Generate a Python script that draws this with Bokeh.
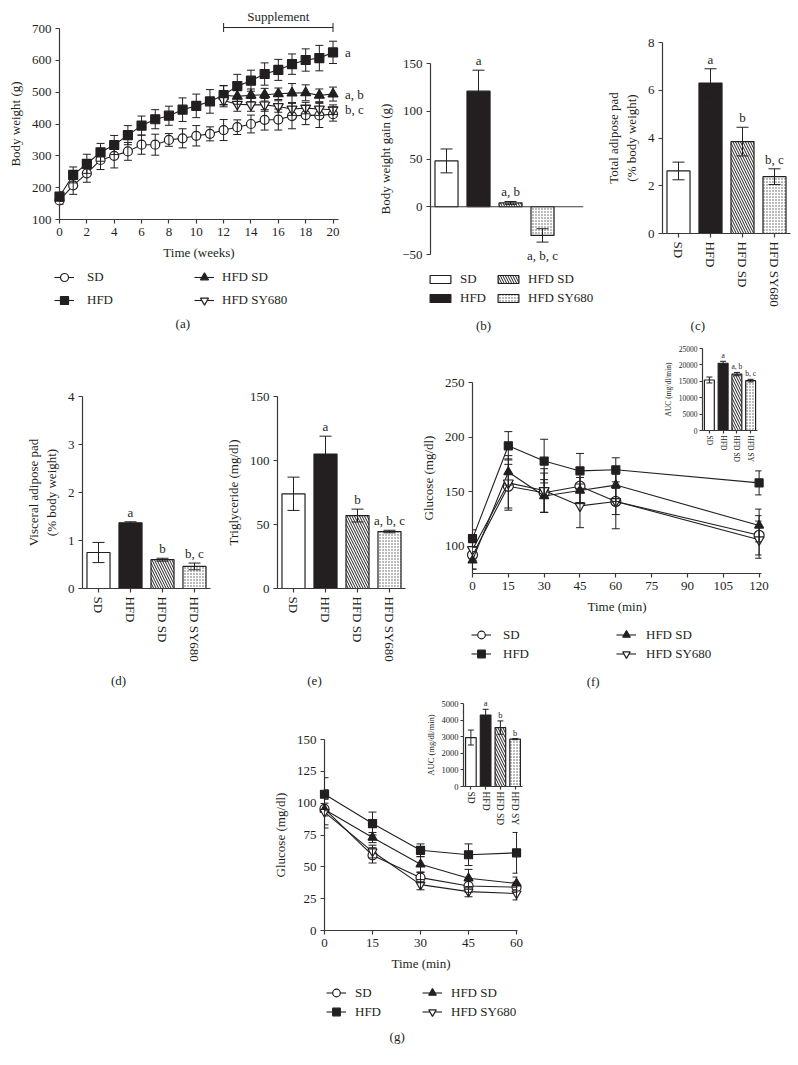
import math
from bokeh.plotting import figure
from bokeh.models import (ColumnDataSource, Whisker, TeeHead, Legend, LegendItem,
                          Range1d, FixedTicker, Span, Spacer)
from bokeh.core.properties import value
from bokeh.layouts import row, column
from bokeh.embed import file_html
from bokeh.resources import INLINE

FONT = "Liberation Serif"
INK = "#231f20"
AX = "#3a3a3a"
FS = "13px"
LVL = "overlay"
NAN = float("nan")

# ---------------- data ----------------
groups = ["SD", "HFD", "HFD SD", "HFD SY680"]
inset_groups = ["SD", "HFD", "HFD SD", "HFD SY"]
bar_pos = [1, 2, 3, 4]

# (a) body weight
weeks = list(range(0, 21))
weeks_supp = list(range(12, 21))
bw_sd = [160, 207, 245, 287, 300, 314, 335, 335, 350, 355, 363, 369, 381, 390, 400, 413, 414, 425, 428, 427, 431]
bw_sd_err = [12, 28, 28, 30, 38, 28, 30, 33, 20, 30, 32, 22, 33, 23, 28, 32, 33, 40, 30, 38, 22]
bw_hfd = [172, 240, 275, 311, 334, 365, 395, 415, 426, 445, 457, 471, 491, 519, 536, 557, 570, 588, 601, 607, 625]
bw_hfd_err = [15, 25, 30, 28, 30, 30, 30, 30, 30, 37, 37, 37, 30, 37, 33, 35, 33, 32, 35, 40, 35]
bw_hfdsd = [490, 487, 490, 492, 495, 497, 498, 490, 494]
bw_hfdsd_err = [30, 25, 20, 20, 18, 30, 25, 20, 22]
bw_sy = [474, 462, 460, 460, 455, 447, 450, 447, 445]
bw_sy_err = [20, 22, 20, 20, 18, 20, 18, 20, 15]
bw_letters = ["a", "a, b", "b, c"]
supplement_weeks = [12, 20]
supplement_level = 703
bw_ticks_x = list(range(0, 21, 2))
bw_ticks_y = [100, 200, 300, 400, 500, 600, 700]

# (b) body weight gain
gain = [48, 121, 4, -30]
gain_err = [12.5, 22, 1.5, 7]
gain_letters = ["", "a", "a, b", "a, b, c"]
gain_ticks = [-50, 0, 50, 100, 150]

# (c) total adipose pad
total_pad = [2.62, 6.3, 3.85, 2.38]
total_pad_err = [0.37, 0.6, 0.6, 0.33]
total_pad_letters = ["", "a", "b", "b, c"]
total_pad_ticks = [0, 2, 4, 6, 8]

# (d) visceral adipose pad
visc_pad = [0.75, 1.37, 0.6, 0.46]
visc_pad_err = [0.21, 0.02, 0.03, 0.07]
visc_pad_letters = ["", "a", "b", "b, c"]
visc_pad_ticks = [0, 1, 2, 3, 4]

# (e) triglyceride
tg = [74, 105, 57, 44.5]
tg_err = [13, 14, 5, 1]
tg_letters = ["", "a", "b", "a, b, c"]
tg_ticks = [0, 50, 100, 150]

# (f) OGTT
ogtt_time = [0, 15, 30, 45, 60, 120]
ogtt_sd = [92, 155, 149, 155, 141, 110]
ogtt_sd_err = [13, 20, 18, 15, 25, 18]
ogtt_hfd = [107, 192, 178, 169, 170, 158]
ogtt_hfd_err = [8, 13, 20, 16, 11, 11]
ogtt_hfdsd = [87, 168, 146, 151, 156, 119]
ogtt_hfdsd_err = [8, 12, 15, 12, 15, 15]
ogtt_sy = [97, 158, 151, 137, 141, 106]
ogtt_sy_err = [10, 25, 20, 20, 12, 17]
ogtt_ticks_x = [0, 15, 30, 45, 60, 75, 90, 105, 120]
ogtt_ticks_y = [100, 150, 200, 250]
ogtt_auc = [15400, 20500, 17200, 15200]
ogtt_auc_err = [900, 600, 500, 400]
ogtt_auc_letters = ["", "a", "a, b", "b, c"]
ogtt_auc_ticks = [0, 5000, 10000, 15000, 20000, 25000]

# (g) ITT
itt_time = [0, 15, 30, 45, 60]
itt_sd = [95.5, 59, 41.5, 35, 34]
itt_sd_err = [15, 6, 4, 5, 4]
itt_hfd = [107, 84, 63, 59.5, 61]
itt_hfd_err = [13, 9, 5, 8.5, 16]
itt_hfdsd = [95, 73, 52, 41, 37]
itt_hfdsd_err = [5, 4, 6, 7, 5]
itt_sy = [93, 62, 36, 30.5, 29]
itt_sy_err = [10, 5, 4, 4, 5]
itt_ticks_x = [0, 15, 30, 45, 60]
itt_ticks_y = [0, 25, 50, 75, 100, 125, 150]
itt_auc = [2950, 4300, 3550, 2850]
itt_auc_err = [450, 350, 400, 30]
itt_auc_letters = ["", "a", "b", "b"]
itt_auc_ticks = [0, 1000, 2000, 3000, 4000, 5000]

# ---------------- styles ----------------
BAR_FILL = ["white", INK, "white", "white"]
BAR_HATCH = [" ", " ", "\\", "."]
BAR_HSCALE = [4, 4, 5, 3]
BAR_HCOLOR = [INK, INK, INK, "#555555"]
LINE_MARKERS = [("circle", "white"), ("square", INK), ("triangle", INK), ("inverted_triangle", "white")]


def make_fig(w, h, left, top, right, bottom, xr, yr, fs=FS, lfs=FS, tick=4, stand=4, lstand=6,
             x_axis_location="below"):
    p = figure(width=w, height=h, x_range=xr, y_range=yr, output_backend="svg",
               toolbar_location=None, min_border_left=left, min_border_top=top,
               min_border_right=right, min_border_bottom=bottom, frame_align=False,
               x_axis_location=x_axis_location)
    p.grid.visible = False
    p.outline_line_color = None
    p.background_fill_alpha = 0
    p.border_fill_alpha = 0
    for ax in p.axis:
        ax.axis_line_color = AX
        ax.axis_line_width = 1.2
        ax.major_tick_line_color = AX
        ax.major_tick_line_width = 1.2
        ax.major_tick_out = tick
        ax.major_tick_in = 0
        ax.minor_tick_line_color = None
        ax.major_label_text_font = FONT
        ax.major_label_text_font_size = fs
        ax.major_label_text_color = INK
        ax.axis_label_text_font = FONT
        ax.axis_label_text_font_size = lfs
        ax.axis_label_text_font_style = "normal"
        ax.axis_label_text_color = INK
        ax.major_label_standoff = stand
        ax.axis_label_standoff = lstand
    return p


def add_text(p, xs, ys, texts, dx=0, dy=0, align="center", baseline="middle", fs=FS):
    src = ColumnDataSource(dict(x=xs, y=ys, t=texts))
    p.text(x="x", y="y", text="t", source=src, x_offset=dx, y_offset=dy, text_align=align,
           text_baseline=baseline, text_font=value(FONT), text_font_size=value(fs),
           text_color=INK, level=LVL)


def whisker(src, cap):
    return Whisker(source=src, base="x", lower="lo", upper="hi", dimension="height",
                   level=LVL, line_color=INK, line_width=1,
                   upper_head=TeeHead(size=cap, line_color=INK, line_width=1),
                   lower_head=TeeHead(size=cap, line_color=INK, line_width=1))


def line_series(p, x, y, e, marker, fill, size, cap):
    lo = [a - b for a, b in zip(y, e)]
    hi = [a + b for a, b in zip(y, e)]
    src = ColumnDataSource(dict(x=x, y=y, lo=lo, hi=hi))
    p.add_layout(whisker(src, cap))
    p.line("x", "y", source=src, line_color=INK, line_width=1.1, level=LVL)
    p.scatter("x", "y", source=src, marker=marker, size=size, fill_color=fill,
              line_color=INK, line_width=1.2, level=LVL)


def bar_series(p, vals, errs, letters, width=0.72, cap=12, lfs=FS, loff=2):
    lo = [v - e for v, e in zip(vals, errs)]
    hi = [v + e for v, e in zip(vals, errs)]
    src = ColumnDataSource(dict(x=bar_pos, v=vals, lo=lo, hi=hi, fill=BAR_FILL, hatch=BAR_HATCH,
                                hs=BAR_HSCALE, hc=BAR_HCOLOR))
    p.vbar(x="x", top="v", bottom=0, width=width, source=src, fill_color="fill",
           line_color=INK, line_width=1.2, hatch_pattern="hatch", hatch_scale="hs",
           hatch_color="hc", hatch_weight=1)
    p.add_layout(whisker(src, cap))
    up = [i for i, v in enumerate(vals) if v >= 0 and letters[i]]
    dn = [i for i, v in enumerate(vals) if v < 0 and letters[i]]
    if up:
        add_text(p, [bar_pos[i] for i in up], [hi[i] for i in up], [letters[i] for i in up],
                 dy=-loff, baseline="bottom", fs=lfs)
    if dn:
        add_text(p, [bar_pos[i] for i in dn], [lo[i] for i in dn], [letters[i] for i in dn],
                 dy=6, baseline="top", fs=lfs)


def cat_axis(p, labels):
    p.xaxis.ticker = FixedTicker(ticks=bar_pos)
    p.xaxis.major_label_overrides = {k: v for k, v in zip(bar_pos, labels)}
    p.xaxis.major_label_orientation = "vertical"


def panel_label(p, text, dx, dy):
    add_text(p, [p.x_range.start], [p.y_range.start], [text], dx=dx, dy=dy)


def legend_fig(w, h):
    lf = figure(width=w, height=h, x_range=Range1d(0, w), y_range=Range1d(0, h),
                output_backend="svg", toolbar_location=None, min_border=0,
                x_axis_location=None, y_axis_location=None, frame_align=False)
    lf.grid.visible = False
    lf.outline_line_color = None
    lf.background_fill_alpha = 0
    lf.border_fill_alpha = 0
    lf.margin = (-h, 0, 0, 0)
    return lf


def legend_box(lf, items, x, y, gw, gh, standoff, spacing, lh=None):
    lg = Legend(items=items, location=(x, y), orientation="vertical", padding=0, margin=0,
                spacing=int(spacing), glyph_width=int(gw), glyph_height=int(gh),
                label_standoff=int(standoff), label_height=int(lh if lh is not None else gh),
                label_width=10, label_text_font=FONT, label_text_font_size=FS,
                label_text_color=INK, border_line_color=None, background_fill_alpha=0)
    lf.add_layout(lg, "center")


def line_legend(lf, cols, gh=19, spacing=0):
    # placeholder renderers (no visible data) that only provide the legend swatches
    items = []
    for i, name in enumerate(groups):
        marker, fill = LINE_MARKERS[i]
        lr = lf.line(x=[NAN], y=[NAN], line_color=INK, line_width=1.1)
        sr = lf.scatter(x=[NAN], y=[NAN], marker=marker, size=8, fill_color=fill, line_color=INK,
                        line_width=1.2)
        items.append(LegendItem(label=name, renderers=[lr, sr]))
    for (x, y, standoff), sub in zip(cols, [items[:2], items[2:]]):
        legend_box(lf, sub, x, y, 20, gh, standoff, spacing)


def bar_legend(lf, cols):
    items = []
    for i, name in enumerate(groups):
        r = lf.vbar(x=[NAN], top=[NAN], width=0.7, fill_color=BAR_FILL[i], line_color=INK,
                    line_width=1.2, hatch_pattern=BAR_HATCH[i], hatch_scale=BAR_HSCALE[i],
                    hatch_color=BAR_HCOLOR[i], hatch_weight=1)
        items.append(LegendItem(label=name, renderers=[r]))
    for (x, y, standoff), sub in zip(cols, [items[:2], items[2:]]):
        legend_box(lf, sub, x, y, 26, 10, standoff, 3, lh=14)


# ---------------- (a) ----------------
pa = make_fig(372, 335, 59, 28, 34, 116, Range1d(0, 20.4), Range1d(100, 700))
pa.xaxis.ticker = FixedTicker(ticks=bw_ticks_x)
pa.yaxis.ticker = FixedTicker(ticks=bw_ticks_y)
pa.xaxis.axis_label = "Time (weeks)"
pa.yaxis.axis_label = "Body weight (g)"
line_series(pa, weeks, bw_sd, bw_sd_err, "circle", "white", 9, 8)
line_series(pa, weeks, bw_hfd, bw_hfd_err, "square", INK, 9, 8)
line_series(pa, weeks_supp, bw_hfdsd, bw_hfdsd_err, "triangle", INK, 10, 8)
line_series(pa, weeks_supp, bw_sy, bw_sy_err, "inverted_triangle", "white", 10, 8)
pa.segment(x0=[supplement_weeks[0]], y0=[supplement_level], x1=[supplement_weeks[1]],
           y1=[supplement_level], line_color=INK, line_width=1, level=LVL)
pa.scatter(supplement_weeks, [supplement_level] * 2, marker="dash", angle=math.pi / 2, size=9,
           line_color=INK, line_width=1, level=LVL)
add_text(pa, [sum(supplement_weeks) / 2], [supplement_level], ["Supplement"], dy=-4, baseline="bottom")
add_text(pa, [weeks[-1]] * 3, [bw_hfd[-1], bw_hfdsd[-1], bw_sy[-1]], bw_letters, dx=12, align="left")
panel_label(pa, "(a)", 123.3, 104)
la = legend_fig(372, 80)
line_legend(la, [(54, 25, 13), (194, 25, 8)], gh=20, spacing=3)

# ---------------- (b) ----------------
pb = make_fig(228, 335, 58, 63, 17, 81, Range1d(0.5, 5.28), Range1d(-50, 150), x_axis_location=None)
pb.yaxis.ticker = FixedTicker(ticks=gain_ticks)
pb.yaxis.major_label_overrides = {-50: "\u221250"}
pb.yaxis.axis_label = "Body weight gain (g)"
pb.add_layout(Span(location=0, dimension="width", line_color=AX, line_width=1.2))
bar_series(pb, gain, gain_err, gain_letters)
panel_label(pb, "(b)", 53, 71)
lb = legend_fig(228, 70)
bar_legend(lb, [(55, 29, 7), (123, 29, 7)])

# ---------------- (c) ----------------
pc = make_fig(198, 335, 62, 42, 8, 102, Range1d(0.5, 4.5), Range1d(0, 8))
pc.yaxis.ticker = FixedTicker(ticks=total_pad_ticks)
pc.yaxis.axis_label = "Total adipose pad\n(% body weight)"
cat_axis(pc, groups)
bar_series(pc, total_pad, total_pad_err, total_pad_letters)
panel_label(pc, "(c)", 35.3, 91.7)

# ---------------- (d) ----------------
pd_ = make_fig(222, 355, 82, 61, 12, 102, Range1d(0.5, 4.5), Range1d(0, 4))
pd_.yaxis.ticker = FixedTicker(ticks=visc_pad_ticks)
pd_.yaxis.axis_label = "Visceral adipose pad\n(% body weight)"
cat_axis(pd_, groups)
bar_series(pd_, visc_pad, visc_pad_err, visc_pad_letters)
panel_label(pd_, "(d)", 36, 92.3)

# ---------------- (e) ----------------
pe = make_fig(193, 355, 54, 61, 10, 102, Range1d(0.5, 4.5), Range1d(0, 150))
pe.yaxis.ticker = FixedTicker(ticks=tg_ticks)
pe.yaxis.axis_label = "Triglyceride (mg/dl)"
cat_axis(pe, groups)
bar_series(pe, tg, tg_err, tg_letters)
panel_label(pe, "(e)", 37, 92.3)

# ---------------- (f) ----------------
pf = make_fig(383, 355, 57, 47, 37, 117, Range1d(0, 121), Range1d(75, 250))
pf.xaxis.ticker = FixedTicker(ticks=ogtt_ticks_x)
pf.yaxis.ticker = FixedTicker(ticks=ogtt_ticks_y)
pf.xaxis.axis_label = "Time (min)"
pf.yaxis.axis_label = "Glucose (mg/dl)"
line_series(pf, ogtt_time, ogtt_sd, ogtt_sd_err, "circle", "white", 10, 8)
line_series(pf, ogtt_time, ogtt_hfd, ogtt_hfd_err, "square", INK, 8, 8)
line_series(pf, ogtt_time, ogtt_hfdsd, ogtt_hfdsd_err, "triangle", INK, 9, 8)
line_series(pf, ogtt_time, ogtt_sy, ogtt_sy_err, "inverted_triangle", "white", 10, 8)
panel_label(pf, "(f)", 120.7, 107.7)
lfg = legend_fig(383, 80)
line_legend(lfg, [(56, 27, 12), (201, 27, 10)])

pfi = make_fig(112, 122, 47, 5, 10, 35, Range1d(0.5, 4.5), Range1d(0, 25000),
               fs="7.5px", lfs="7.5px", tick=3, stand=2, lstand=3)
pfi.yaxis.ticker = FixedTicker(ticks=ogtt_auc_ticks)
pfi.yaxis.axis_label = "AUC (mg/dl/min)"
cat_axis(pfi, inset_groups)
bar_series(pfi, ogtt_auc, ogtt_auc_err, ogtt_auc_letters, cap=6, lfs="7.5px", loff=1)
pfi.margin = (8, 0, 0, -143)

# ---------------- (g) ----------------
pg = make_fig(297, 355, 64, 49, 40, 115, Range1d(0, 60.3), Range1d(0, 150))
pg.xaxis.ticker = FixedTicker(ticks=itt_ticks_x)
pg.yaxis.ticker = FixedTicker(ticks=itt_ticks_y)
pg.xaxis.axis_label = "Time (min)"
pg.yaxis.axis_label = "Glucose (mg/dl)"
line_series(pg, itt_time, itt_sd, itt_sd_err, "circle", "white", 9, 8)
line_series(pg, itt_time, itt_hfd, itt_hfd_err, "square", INK, 8, 8)
line_series(pg, itt_time, itt_hfdsd, itt_hfdsd_err, "triangle", INK, 9, 8)
line_series(pg, itt_time, itt_sy, itt_sy_err, "inverted_triangle", "white", 9, 8)
panel_label(pg, "(g)", 72.7, 106.3)
lg_g = legend_fig(297, 80)
line_legend(lg_g, [(66, 24, 9), (162, 24, 9)])

pgi = make_fig(116, 130, 47, 5, 10, 38, Range1d(0.5, 4.5), Range1d(0, 5000),
               fs="8.5px", lfs="8.5px", tick=3, stand=2, lstand=3)
pgi.yaxis.ticker = FixedTicker(ticks=itt_auc_ticks)
pgi.yaxis.axis_label = "AUC (mg/dl/min)"
cat_axis(pgi, inset_groups)
pgi.xaxis.major_label_text_font_size = "9.5px"
bar_series(pgi, itt_auc, itt_auc_err, itt_auc_letters, cap=6, lfs="8.5px", loff=1)
pgi.margin = (8, 0, 0, -141)

layout = column(
    row(column(pa, la), column(pb, lb), pc),
    row(pd_, pe, column(pf, lfg), pfi),
    row(Spacer(width=260, height=10), column(pg, lg_g), pgi),
)

open("out.html", "w").write(file_html(layout, INLINE))
